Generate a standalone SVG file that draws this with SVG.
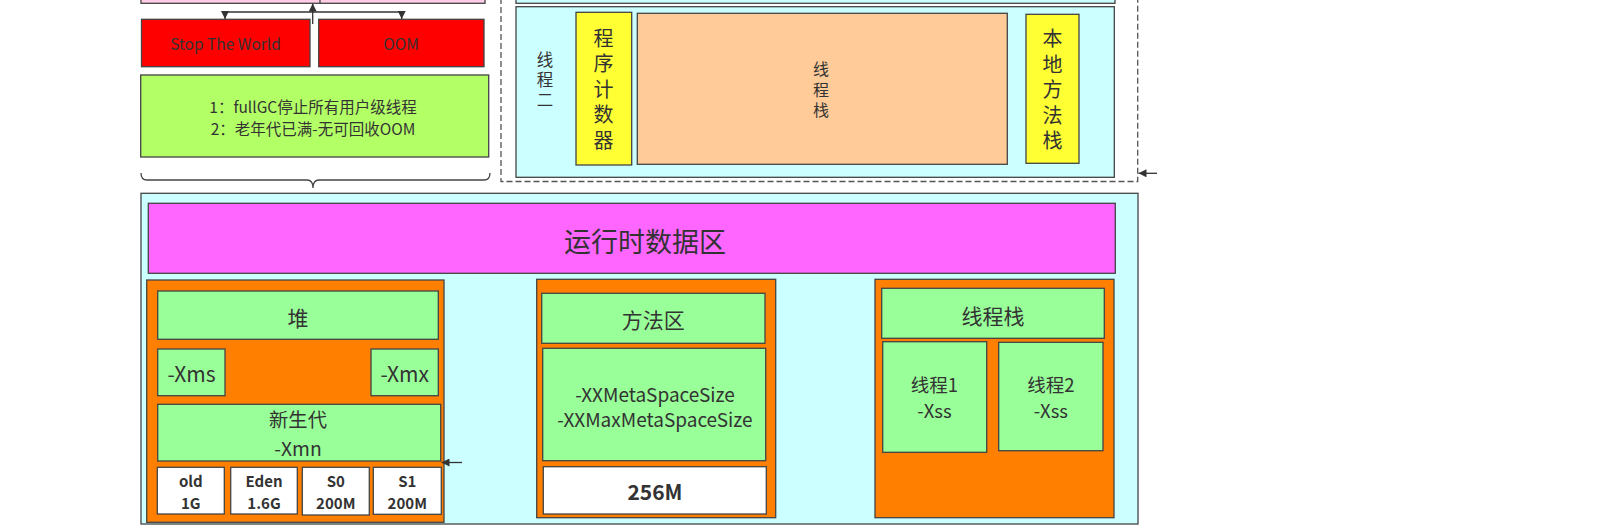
<svg xmlns="http://www.w3.org/2000/svg" width="1600" height="532" viewBox="0 0 1600 532">
<defs>
<marker id="ah" viewBox="0 0 10 10" refX="10" refY="5" markerWidth="8" markerHeight="8" markerUnits="userSpaceOnUse" orient="auto">
<path d="M0,0 L10,5 L0,10 Z" fill="#333"/>
</marker>
<style>
.b{stroke:#444;stroke-width:1.3}
.t{font-family:"Noto Sans CJK SC","Microsoft YaHei",sans-serif;fill:#333;text-anchor:middle;dominant-baseline:central}
.v{writing-mode:vertical-rl;text-orientation:upright}
.bold{font-weight:bold}
.cn{stroke:#333;stroke-width:1.3;fill:none}
</style>
</defs>
<rect width="1600" height="532" fill="#fff"/>

<!-- top left pink (cut) -->
<g id="pink-top">
<rect class="b" x="141" y="-10" width="344" height="13.3" fill="#FFCCE6"/>
<line class="b" x1="320" y1="-10" x2="320" y2="3.3"/>
</g>

<g id="stw">
<rect class="b" x="141.5" y="19.3" width="168.5" height="47.4" fill="#FF0000"/>
<text class="t" x="225.5" y="43.3" font-size="15.5">Stop The World</text>
</g>
<g id="oom">
<rect class="b" x="318.7" y="19.3" width="165.3" height="47.4" fill="#FF0000"/>
<text class="t" x="401" y="43.3" font-size="15.5">OOM</text>
</g>
<g id="note">
<rect class="b" x="140.7" y="75" width="348" height="82" fill="#B3FF66"/>
<text class="t" font-size="15.5"><tspan x="313" y="106">1：fullGC停止所有用户级线程</tspan><tspan x="313" y="128">2：老年代已满-无可回收OOM</tspan></text>
</g>

<!-- dashed thread area -->
<g id="thread-area">
<path d="M501,-2 V181.5 H1137.7 V-2" fill="none" stroke="#555" stroke-width="1.3" stroke-dasharray="6 3"/>
</g>
<g id="thread-one">
<rect class="b" x="516" y="-10" width="599" height="13.3" fill="#CCFFFF"/>
</g>
<g id="thread-two">
<rect class="b" x="516" y="6.7" width="598.3" height="170.6" fill="#CCFFFF"/>
<text class="t v" x="545" y="81.7" font-size="16.5" letter-spacing="3.5">线程二</text>
</g>
<g id="pc">
<rect class="b" x="576" y="12.3" width="55.7" height="152.7" fill="#FFFF33"/>
<text class="t v" x="603.5" y="91.7" font-size="20" letter-spacing="5.5">程序计数器</text>
</g>
<g id="vm-stack">
<rect class="b" x="637.3" y="13.3" width="370" height="151" fill="#FFCC99"/>
<text class="t v" x="821" y="91.7" font-size="16" letter-spacing="4.5">线程栈</text>
</g>
<g id="native-stack">
<rect class="b" x="1026" y="14.3" width="53" height="149" fill="#FFFF33"/>
<text class="t v" x="1052.5" y="92.2" font-size="20" letter-spacing="5.5">本地方法栈</text>
</g>

<!-- brace -->
<g id="brace">
<path d="M141,173 Q141,180 147,180 H307 Q313,180 313,188 Q313,180 319,180 H484 Q490,180 490,173" fill="none" stroke="#444" stroke-width="1.3"/>
</g>

<!-- runtime data area -->
<g id="runtime">
<rect class="b" x="141" y="193.3" width="997" height="330.7" fill="#CCFFFF"/>
<rect class="b" x="148.3" y="203.3" width="967" height="70" fill="#FF66FF"/>
<text class="t" x="645" y="240" font-size="27">运行时数据区</text>
</g>

<!-- heap -->
<g id="heap">
<rect class="b" x="146.7" y="280" width="297.3" height="242.3" fill="#FF8000"/>
<rect class="b" x="157.7" y="291" width="280.6" height="48.3" fill="#99FF99"/>
<text class="t" x="298" y="316.5" font-size="21">堆</text>
</g>
<g id="xms">
<rect class="b" x="157.7" y="349" width="67.3" height="46.7" fill="#99FF99"/>
<text class="t" x="191.5" y="372.5" font-size="21">-Xms</text>
</g>
<g id="xmx">
<rect class="b" x="371" y="349" width="67.3" height="46.7" fill="#99FF99"/>
<text class="t" x="404.7" y="372.5" font-size="21">-Xmx</text>
</g>
<g id="young">
<rect class="b" x="157.7" y="404.3" width="283" height="56.7" fill="#99FF99"/>
<text class="t" font-size="19.3"><tspan x="298" y="419">新生代</tspan><tspan x="298" y="447.5">-Xmn</tspan></text>
</g>
<g id="old">
<rect class="b" x="157.3" y="467.3" width="67" height="46.7" fill="#fff"/>
<text class="t bold" font-size="15"><tspan x="190.8" y="480">old</tspan><tspan x="190.8" y="502">1G</tspan></text>
</g>
<g id="eden">
<rect class="b" x="230.7" y="467.3" width="66.6" height="46.7" fill="#fff"/>
<text class="t bold" font-size="15"><tspan x="264" y="480">Eden</tspan><tspan x="264" y="502">1.6G</tspan></text>
</g>
<g id="s0">
<rect class="b" x="302.3" y="467.3" width="67" height="47.7" fill="#fff"/>
<text class="t bold" font-size="15"><tspan x="335.8" y="480">S0</tspan><tspan x="335.8" y="502">200M</tspan></text>
</g>
<g id="s1">
<rect class="b" x="373.3" y="467.3" width="68" height="47" fill="#fff"/>
<text class="t bold" font-size="15"><tspan x="407.3" y="480">S1</tspan><tspan x="407.3" y="502">200M</tspan></text>
</g>

<!-- method area -->
<g id="method-area">
<rect class="b" x="536.7" y="279.3" width="239" height="238.4" fill="#FF8000"/>
<rect class="b" x="541.7" y="293.3" width="223.3" height="50" fill="#99FF99"/>
<text class="t" x="653.3" y="319" font-size="21">方法区</text>
</g>
<g id="metaspace">
<rect class="b" x="542.7" y="348.3" width="223" height="112.4" fill="#99FF99"/>
<text class="t" font-size="19"><tspan x="655" y="392.5">-XXMetaSpaceSize</tspan><tspan x="655" y="417.5">-XXMaxMetaSpaceSize</tspan></text>
</g>
<g id="m256">
<rect class="b" x="543.3" y="466.7" width="223" height="47.3" fill="#fff"/>
<text class="t bold" x="655" y="491" font-size="21">256M</text>
</g>

<!-- thread stack -->
<g id="thread-stack">
<rect class="b" x="875" y="279.3" width="239" height="238.4" fill="#FF8000"/>
<rect class="b" x="881.7" y="288.3" width="222.6" height="50" fill="#99FF99"/>
<text class="t" x="993" y="314.5" font-size="21">线程栈</text>
</g>
<g id="thread1">
<rect class="b" x="882.7" y="341.7" width="104" height="110.6" fill="#99FF99"/>
<text class="t" font-size="18.5"><tspan x="934.5" y="383.5">线程1</tspan><tspan x="934.5" y="410">-Xss</tspan></text>
</g>
<g id="thread2">
<rect class="b" x="998.7" y="342.3" width="104.3" height="108.4" fill="#99FF99"/>
<text class="t" font-size="18.5"><tspan x="1050.8" y="383.5">线程2</tspan><tspan x="1050.8" y="410">-Xss</tspan></text>
</g>

<!-- connectors -->
<g id="connectors">
<line class="cn" x1="312.7" y1="24" x2="312.7" y2="3.5" marker-end="url(#ah)"/>
<line class="cn" x1="225" y1="12" x2="401.7" y2="12"/>
<line class="cn" x1="225" y1="12" x2="225" y2="19" marker-end="url(#ah)"/>
<line class="cn" x1="401.7" y1="12" x2="401.7" y2="19" marker-end="url(#ah)"/>
<line class="cn" x1="1157" y1="173.3" x2="1138.5" y2="173.3" marker-end="url(#ah)"/>
<line class="cn" x1="462" y1="462.5" x2="441.5" y2="462.5" marker-end="url(#ah)"/>
</g>
</svg>
